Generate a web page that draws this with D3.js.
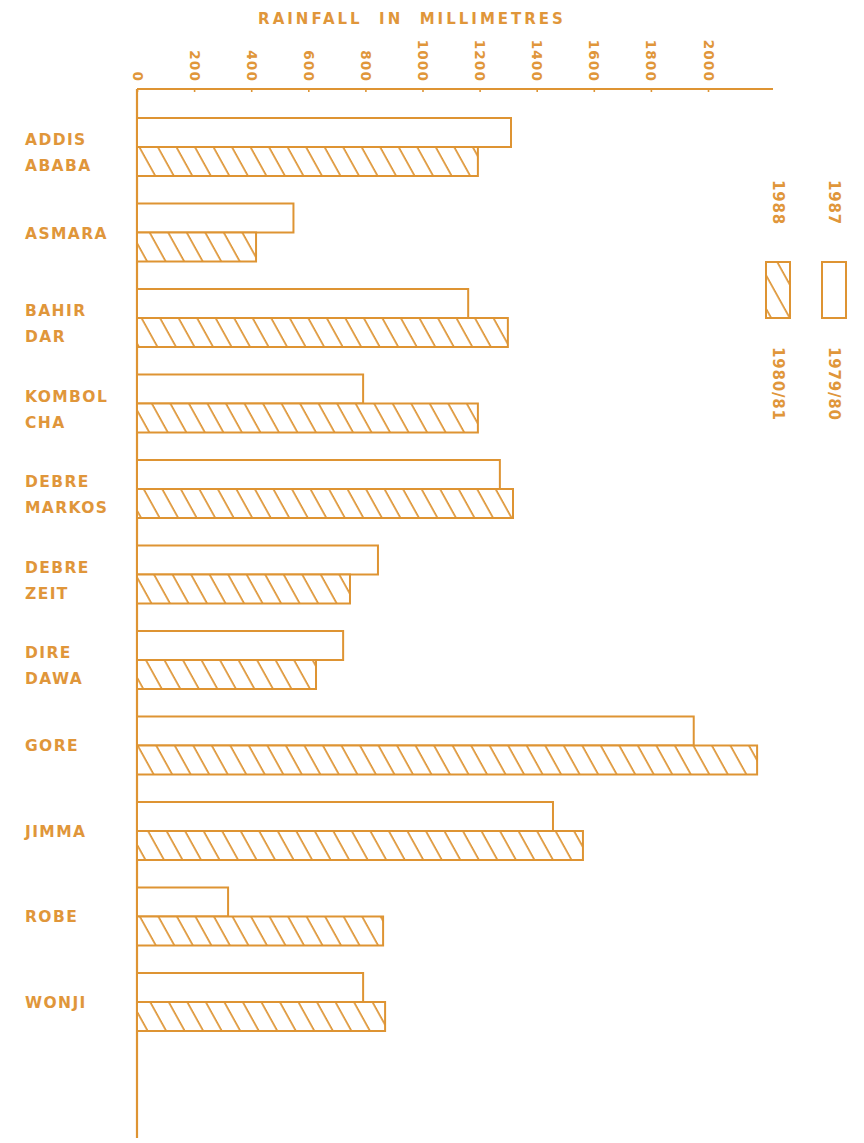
<!DOCTYPE html>
<html>
<head>
<meta charset="utf-8">
<script src="https://cdn.jsdelivr.net/npm/d3@7"></script>
<style>
  html, body { margin: 0; padding: 0; background: #ffffff; }
  svg { display: block; }
</style>
</head>
<body>
<svg id="chart" width="864" height="1143"></svg>
<script>
// ---- data ----
const stations = ["ADDIS ABABA", "ASMARA", "BAHIR DAR", "KOMBOLCHA", "DEBRE MARKOS", "DEBRE ZEIT", "DIRE DAWA", "GORE", "JIMMA", "ROBE", "WONJI"];
const stationLabels = [["ADDIS", "ABABA"], ["ASMARA"], ["BAHIR", "DAR"], ["KOMBOL", "CHA"], ["DEBRE", "MARKOS"], ["DEBRE", "ZEIT"], ["DIRE", "DAWA"], ["GORE"], ["JIMMA"], ["ROBE"], ["WONJI"]];
const rain1987 = [1310, 548, 1160, 792, 1271, 844, 722, 1950, 1457, 319, 792];   // 1987 (1979/80), open bars
const rain1988 = [1194, 417, 1299, 1194, 1317, 746, 627, 2172, 1562, 862, 869];  // 1988 (1980/81), hatched bars
const tickValues = [0, 200, 400, 600, 800, 1000, 1200, 1400, 1600, 1800, 2000];
const seriesNames = ["1987", "1988"];
const seriesAltNames = ["1979/80", "1980/81"];
const axisTitle = "RAINFALL  IN  MILLIMETRES";

// ---- styling ----
const ink = "#DE9433";
const textInk = "#E0963A";

const svg = d3.select("#chart");
const defs = svg.append("defs");
const pw = 16.2;
const pat = defs.append("pattern")
  .attr("id", "hatch")
  .attr("patternUnits", "userSpaceOnUse")
  .attr("width", pw).attr("height", pw)
  .attr("patternTransform", "rotate(-29)");
pat.append("rect").attr("width", pw).attr("height", pw).attr("fill", "#fff");
pat.append("line").attr("x1", 2).attr("y1", -2).attr("x2", 2).attr("y2", pw + 2)
  .attr("stroke", ink).attr("stroke-width", 1.7);

const x = d3.scaleLinear().domain([0, 2000]).range([137, 708]);
const y = d3.scaleBand().domain(stations).range([118, 1031]).paddingInner(0.3216).paddingOuter(0);

// title
svg.append("text")
  .attr("x", 412).attr("y", 24)
  .attr("text-anchor", "middle")
  .attr("font-family", "DejaVu Sans, sans-serif")
  .attr("font-weight", "bold")
  .attr("font-size", 15)
  .attr("letter-spacing", 3)
  .attr("fill", textInk)
  .style("white-space", "pre")
  .text(axisTitle);

// top axis
const axisY = 89;
const gAxis = svg.append("g").attr("transform", `translate(0,${axisY})`)
  .call(d3.axisTop(x).tickValues(tickValues).tickFormat(d3.format("d")).tickSize(-3).tickPadding(0));
gAxis.select(".domain").remove();
gAxis.selectAll(".tick line").attr("stroke", ink).attr("stroke-width", 1.6);
gAxis.selectAll(".tick text")
  .attr("fill", textInk)
  .attr("font-family", "DejaVu Sans, sans-serif")
  .attr("font-weight", "bold")
  .attr("font-size", 13.5)
  .attr("letter-spacing", 1.2)
  .attr("text-anchor", "end")
  .attr("dominant-baseline", "central")
  .attr("transform", "translate(0,-7) rotate(90)")
  .attr("x", 0).attr("y", 0).attr("dy", null);

svg.append("line")
  .attr("x1", x(0)).attr("x2", 773).attr("y1", axisY).attr("y2", axisY)
  .attr("stroke", ink).attr("stroke-width", 2.2);
svg.append("line")
  .attr("x1", x(0)).attr("x2", x(0)).attr("y1", axisY).attr("y2", 1138)
  .attr("stroke", ink).attr("stroke-width", 2.2);

// bars
const half = y.bandwidth() / 2;
const gBars = svg.append("g");
stations.forEach((s, i) => {
  gBars.append("rect")
    .attr("x", x(0)).attr("y", y(s))
    .attr("width", x(rain1987[i]) - x(0)).attr("height", half)
    .attr("fill", "#fff").attr("stroke", ink).attr("stroke-width", 2);
  gBars.append("rect")
    .attr("x", x(0)).attr("y", y(s) + half)
    .attr("width", x(rain1988[i]) - x(0)).attr("height", half)
    .attr("fill", "url(#hatch)").attr("stroke", ink).attr("stroke-width", 2);
});

// category labels
const lineGap = 26;
stations.forEach((s, i) => {
  const lines = stationLabels[i];
  const cy = y(s) + y.bandwidth() / 2 + (lines.length > 1 ? 6 : 1);
  const t = svg.append("text")
    .attr("font-family", "DejaVu Sans, sans-serif")
    .attr("font-weight", "bold")
    .attr("font-size", 15.5)
    .attr("letter-spacing", 1.4)
    .attr("fill", textInk);
  lines.forEach((l, k) => {
    t.append("tspan")
      .attr("x", 25)
      .attr("y", cy + (k - (lines.length - 1) / 2) * lineGap)
      .attr("dominant-baseline", "central")
      .text(l);
  });
});

// legend (vertical, rotated text)
const legendCols = [
  { cx: 778, fill: "url(#hatch)", name: seriesNames[1], alt: seriesAltNames[1] },
  { cx: 834, fill: "#fff", name: seriesNames[0], alt: seriesAltNames[0] }
];
legendCols.forEach(c => {
  svg.append("text")
    .attr("transform", `translate(${c.cx},180) rotate(90)`)
    .attr("dominant-baseline", "central")
    .attr("font-family", "DejaVu Sans, sans-serif")
    .attr("font-weight", "bold")
    .attr("font-size", 15)
    .attr("letter-spacing", 0.8)
    .attr("fill", textInk)
    .text(c.name);
  svg.append("rect")
    .attr("x", c.cx - 12).attr("y", 262)
    .attr("width", 24).attr("height", 56)
    .attr("fill", c.fill).attr("stroke", ink).attr("stroke-width", 2);
  svg.append("text")
    .attr("transform", `translate(${c.cx},347) rotate(90)`)
    .attr("dominant-baseline", "central")
    .attr("font-family", "DejaVu Sans, sans-serif")
    .attr("font-weight", "bold")
    .attr("font-size", 15)
    .attr("letter-spacing", 0.8)
    .attr("fill", textInk)
    .text(c.alt);
});
</script>
</body>
</html>
